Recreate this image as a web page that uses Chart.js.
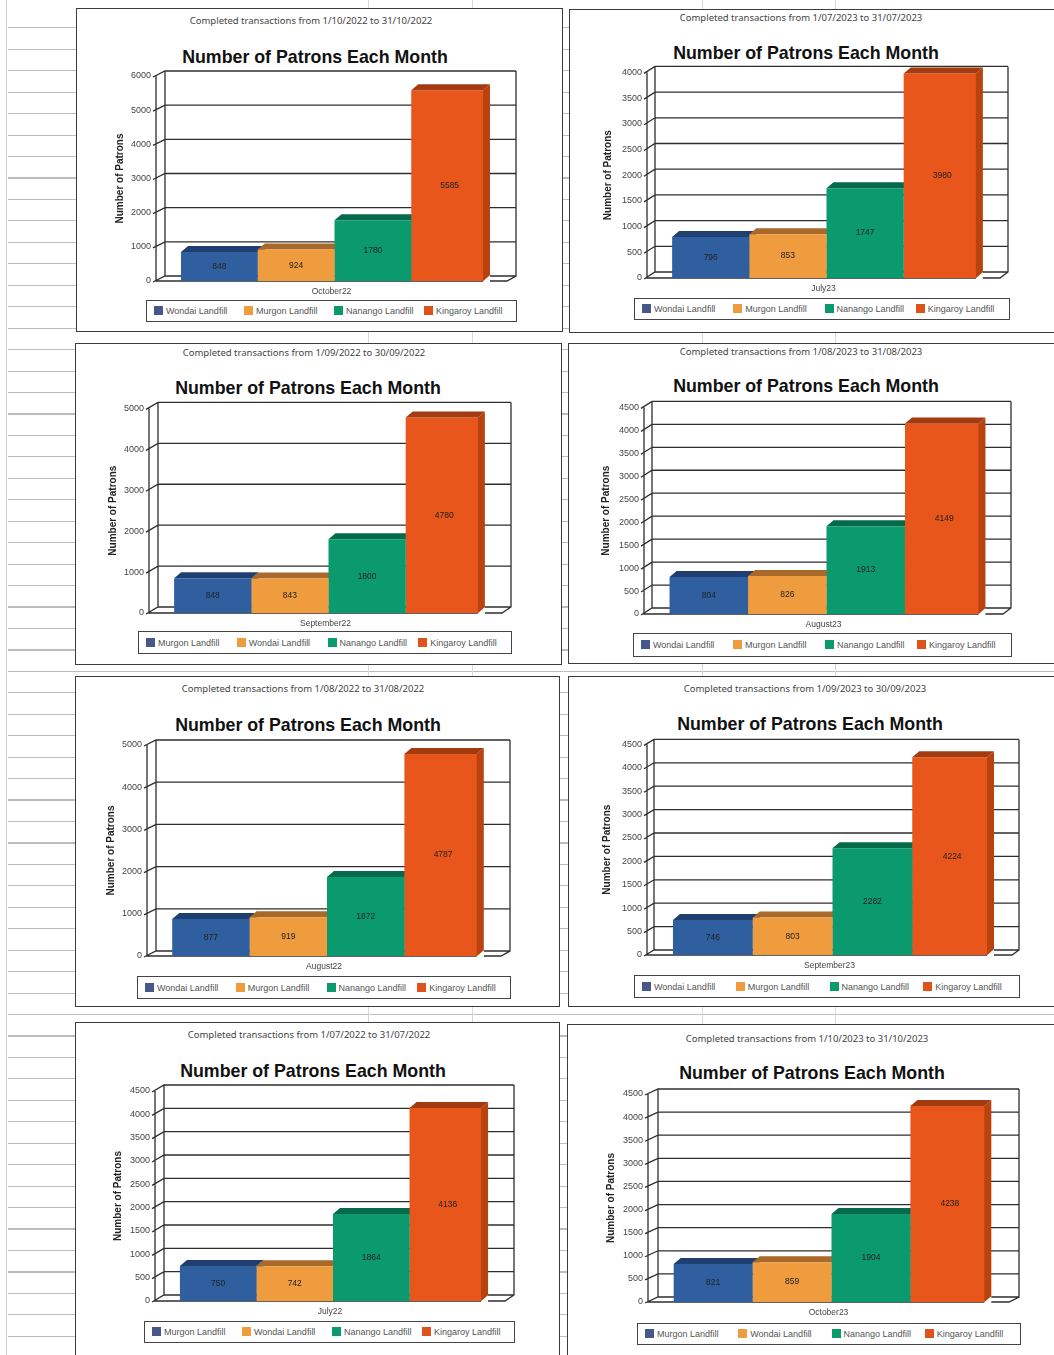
<!DOCTYPE html>
<html>
<head>
<meta charset="utf-8">
<title>Number of Patrons Each Month</title>
<script src="https://cdn.jsdelivr.net/npm/chart.js@4"></script>
<style>
    html, body { margin: 0; padding: 0; background: #fff; }
    #sheet {
        position: relative; width: 1054px; height: 1355px; overflow: hidden;
        filter: blur(0.5px);
        font-family: 'Liberation Sans', Arial, sans-serif;
        background: #fff;
    }
    #rows {
        position: absolute; left: 8px; right: 0; top: 7px; bottom: 0;
        background: repeating-linear-gradient(#fff 0, #fff 20.3px, #bcbcbc 20.3px, #bcbcbc 21.45px);
    }
    #edge { position: absolute; left: 6px; top: 0; bottom: 0; width: 1px; background: #d0d0d0; }
    .mark { position: absolute; top: 0; bottom: 0; width: 1px; background: #d8d8d8; }
    .panel { position: absolute; box-sizing: border-box; background: #fff; border: 1.5px solid #3c3c3c; }
    .sub, .head { position: absolute; white-space: nowrap; transform: translate(-50%, -50%); }
    .sub { font: 9.5px 'Noto Sans', sans-serif; color: #444; }
    .head { font-weight: bold; font-size: 17.8px; color: #111; }
    .legend {
        position: absolute; box-sizing: border-box; display: grid; align-items: center;
        grid-template-columns: repeat(4, 1fr); padding: 0 2px 0 7px;
        border: 1.5px solid #444; font-size: 9px; color: #555; background: #fff;
    }
    .legend i { display: inline-block; width: 9px; height: 9px; margin-right: 3px; vertical-align: -1px; }
    canvas { position: absolute; }
</style>
</head>
<body>
<div id="sheet"><div id="rows"></div><div id="edge"></div></div>
<script>
// ── Data, in the order the panels sit on the page ──
const months = ['October22', 'July23', 'September22', 'August23', 'August22', 'September23', 'July22', 'October23'];
const dateRanges = [
    '1/10/2022 to 31/10/2022', '1/07/2023 to 31/07/2023',
    '1/09/2022 to 30/09/2022', '1/08/2023 to 31/08/2023',
    '1/08/2022 to 31/08/2022', '1/09/2023 to 30/09/2023',
    '1/07/2022 to 31/07/2022', '1/10/2023 to 31/10/2023'
];
const wondaiFirst = ['Wondai Landfill', 'Murgon Landfill', 'Nanango Landfill', 'Kingaroy Landfill'];
const murgonFirst = ['Murgon Landfill', 'Wondai Landfill', 'Nanango Landfill', 'Kingaroy Landfill'];
const panelSeries = [wondaiFirst, wondaiFirst, murgonFirst, wondaiFirst, wondaiFirst, wondaiFirst, murgonFirst, murgonFirst];

const october22 = [848, 924, 1780, 5585];
const july23 = [796, 853, 1747, 3980];
const september22 = [848, 843, 1800, 4780];
const august23 = [804, 826, 1913, 4149];
const august22 = [877, 919, 1872, 4787];
const september23 = [746, 803, 2282, 4224];
const july22 = [750, 742, 1864, 4136];
const october23 = [821, 859, 1904, 4238];
const panelValues = [october22, july23, september22, august23, august22, september23, july22, october23];

const yMaxes = [6000, 4000, 5000, 4500, 5000, 4500, 4500, 4500];
const ySteps = [1000, 500, 1000, 500, 1000, 500, 500, 500];

// ── Styles and layout ──
const barColors = ['#2f5f9f', '#ef9c3f', '#0b9a6e', '#e8561c'];
const sideColors = ['#264c84', '#bd7d33', '#077a56', '#b8430f'];
const topColors = ['#1f3f70', '#a8692a', '#056a4a', '#a33a10'];
const swatchColors = ['#46588a', '#ef9c3f', '#0b9a6e', '#e0521c'];
const barDepth = { x: 7, y: 6 };
const lastBarInset = 5; // the right bar's side face eats into its front
const plotOverhang = 6; // bars sit a little right of the floor's centre

// frame = panel border, plot = front plane of the axes, wall = back wall edges
const layouts = [
    { frame: [76, 8, 487, 324], subC: [311, 20], headC: [315, 57], plot: [156, 76, 281], wall: [165, 516, 68, 276], legend: [146, 300, 371, 22], titleX: 120 },
    { frame: [569, 9, 500, 324], subC: [801, 17], headC: [806, 53], plot: [647, 72, 278], wall: [655, 1008, 65, 272], legend: [634, 298, 376, 22], titleX: 608 },
    { frame: [75, 343, 487, 322], subC: [304, 352], headC: [308, 388], plot: [149, 408, 613], wall: [158, 511, 401, 607], legend: [138, 631, 374, 23], titleX: 113 },
    { frame: [568, 343, 500, 321], subC: [801, 351], headC: [806, 386], plot: [644, 407, 614], wall: [652, 1011, 400, 608], legend: [633, 633, 379, 24], titleX: 606 },
    { frame: [75, 676, 485, 331], subC: [303, 688], headC: [308, 725], plot: [147, 745, 956], wall: [156, 510, 737, 951], legend: [137, 976, 374, 23], titleX: 111 },
    { frame: [568, 676, 500, 331], subC: [805, 688], headC: [810, 724], plot: [647, 744, 955], wall: [654, 1019, 737, 950], legend: [634, 975, 386, 23], titleX: 607 },
    { frame: [75, 1022, 485, 340], subC: [309, 1034], headC: [313, 1071], plot: [155, 1091, 1301], wall: [164, 514, 1083, 1295], legend: [144, 1321, 371, 22], titleX: 118 },
    { frame: [567, 1024, 500, 340], subC: [807, 1038], headC: [812, 1073], plot: [648, 1094, 1302], wall: [658, 1019, 1086, 1297], legend: [637, 1323, 384, 22], titleX: 611 }
];

const sheet = document.getElementById('sheet');
[368, 472, 702, 835].forEach(x => {
    const mark = document.createElement('div');
    mark.className = 'mark';
    mark.style.left = x + 'px';
    sheet.appendChild(mark);
});

function fillFace(ctx, color, pts) {
    ctx.fillStyle = color;
    ctx.beginPath();
    pts.forEach(([x, y], n) => n ? ctx.lineTo(x, y) : ctx.moveTo(x, y));
    ctx.closePath();
    ctx.fill();
}

// ── Box drawing: back wall, floor and the depth faces of the bars ──
const box3d = {
    id: 'box3d',
    beforeDatasetsDraw(chart, args, opts) {
        const { ctx, scales: { y: yScale }, chartArea: area } = chart;
        const { wallLeft, wallRight } = opts;
        const dx = wallLeft - area.left;
        const y0 = yScale.getPixelForValue(0);
        const dy = y0 - opts.floorBack;
        ctx.save();
        ctx.strokeStyle = '#2e2e2e';
        ctx.lineWidth = 1.3;
        ctx.beginPath();
        yScale.ticks.forEach(t => {
            const y = yScale.getPixelForValue(t.value);
            ctx.moveTo(area.left - 3, y + 1);
            ctx.lineTo(wallLeft, y - dy);
            ctx.lineTo(wallRight, y - dy);
        });
        ctx.moveTo(area.left, area.top);
        ctx.lineTo(area.left, y0);
        ctx.lineTo(wallRight - dx, y0);
        ctx.lineTo(wallRight, y0 - dy);
        ctx.lineTo(wallRight, area.top - dy);
        ctx.moveTo(wallLeft, area.top - dy);
        ctx.lineTo(wallLeft, y0 - dy);
        ctx.stroke();

        // the last bar gets its faces after the fronts, see afterDatasetsDraw
        chart.data.datasets.slice(0, -1).forEach((ds, i) => {
            const bar = chart.getDatasetMeta(i).data[0];
            const l = bar.x - bar.width / 2, r = bar.x + bar.width / 2;
            const d = barDepth;
            fillFace(ctx, sideColors[i], [[r, bar.y], [r + d.x, bar.y - d.y], [r + d.x, bar.base - d.y], [r, bar.base]]);
            fillFace(ctx, topColors[i], [[l, bar.y], [l + d.x, bar.y - d.y], [r + d.x, bar.y - d.y], [r, bar.y]]);
        });
        ctx.restore();
    },
    afterDatasetsDraw(chart) {
        const { ctx } = chart;
        const count = chart.data.datasets.length;
        const last = chart.getDatasetMeta(count - 1).data[0];
        const r = last.x + last.width / 2 - lastBarInset;
        const l = last.x - last.width / 2;
        const d = barDepth;
        ctx.save();
        // white wedge under the side face, then the faces over the front
        fillFace(ctx, '#fff', [[r, last.base], [r + d.x, last.base - d.y], [r + d.x, last.base + 1], [r, last.base + 1]]);
        fillFace(ctx, sideColors[count - 1], [[r, last.y], [r + d.x, last.y - d.y], [r + d.x, last.base - d.y], [r, last.base]]);
        fillFace(ctx, topColors[count - 1], [[l, last.y], [l + d.x, last.y - d.y], [r + d.x, last.y - d.y], [r, last.y]]);
        ctx.font = "8.5px 'Liberation Sans'";
        ctx.fillStyle = '#222';
        ctx.textAlign = 'center';
        ctx.textBaseline = 'middle';
        chart.data.datasets.forEach((ds, i) => {
            const pt = chart.getDatasetMeta(i).data[0].getCenterPoint();
            ctx.fillText(ds.data[0], pt.x, pt.y);
        });
        ctx.restore();
    }
};

function addText(cls, text, pos) {
    const el = document.createElement('div');
    el.className = cls;
    el.textContent = text;
    el.style.left = pos[0] + 'px';
    el.style.top = pos[1] + 'px';
    sheet.appendChild(el);
}

function addLegend(names, rect) {
    const el = document.createElement('div');
    el.className = 'legend';
    el.style.cssText = `left:${rect[0]}px;top:${rect[1]}px;width:${rect[2]}px;height:${rect[3]}px`;
    el.innerHTML = names.map((n, i) => `<span><i style="background:${swatchColors[i]}"></i>${n}</span>`).join('');
    sheet.appendChild(el);
}

function addPanel(i) {
    const lay = layouts[i];
    const [fx, fy, fw, fh] = lay.frame;
    const frame = document.createElement('div');
    frame.className = 'panel';
    frame.style.cssText = `left:${fx}px;top:${fy}px;width:${fw}px;height:${fh}px`;
    sheet.appendChild(frame);

    addText('sub', 'Completed transactions from ' + dateRanges[i], lay.subC);
    addText('head', 'Number of Patrons Each Month', lay.headC);
    addLegend(panelSeries[i], lay.legend);

    const [plotLeft, plotTop, plotBottom] = lay.plot;
    const [wallLeft, wallRight, wallTop, floorBack] = lay.wall;
    const plotRight = wallRight - (wallLeft - plotLeft) + plotOverhang;
    const left = lay.titleX - 6, top = wallTop - 3, right = wallRight + 3, bottom = plotBottom + 17;

    const canvas = document.createElement('canvas');
    canvas.width = right - left;
    canvas.height = bottom - top;
    canvas.style.left = left + 'px';
    canvas.style.top = top + 'px';
    sheet.appendChild(canvas);

    new Chart(canvas, {
        type: 'bar',
        data: {
            labels: [months[i]],
            datasets: panelSeries[i].map((name, s) => ({
                label: name,
                data: [panelValues[i][s]],
                backgroundColor: barColors[s],
                categoryPercentage: 0.86,
                barPercentage: 1
            }))
        },
        options: {
            responsive: false,
            animation: false,
            layout: { padding: { top: plotTop - top, right: right - plotRight, left: 0, bottom: 0 } },
            plugins: {
                legend: { display: false },
                tooltip: { enabled: false },
                box3d: { wallLeft: wallLeft - left, wallRight: wallRight - left, floorBack: floorBack - top }
            },
            scales: {
                x: {
                    grid: { display: false, drawTicks: false },
                    border: { display: false },
                    ticks: { color: '#444', font: { family: 'Liberation Sans', size: 8.5 }, padding: 6, labelOffset: -plotOverhang / 2 },
                    afterFit: s => { s.height = bottom - plotBottom; }
                },
                y: {
                    min: 0,
                    max: yMaxes[i],
                    grid: { display: false, drawTicks: false },
                    border: { display: false },
                    ticks: {
                        stepSize: ySteps[i],
                        color: '#444',
                        font: { family: 'Liberation Sans', size: 9 },
                        padding: 5,
                        callback: v => v
                    },
                    title: {
                        display: true,
                        text: 'Number of Patrons',
                        color: '#222',
                        font: { family: 'Liberation Sans', size: 10, weight: 'bold' },
                        padding: 0
                    },
                    afterFit: s => { s.width = plotLeft - left; }
                }
            }
        },
        plugins: [box3d]
    });
}

months.forEach((m, i) => addPanel(i));
</script>
</body>
</html>
